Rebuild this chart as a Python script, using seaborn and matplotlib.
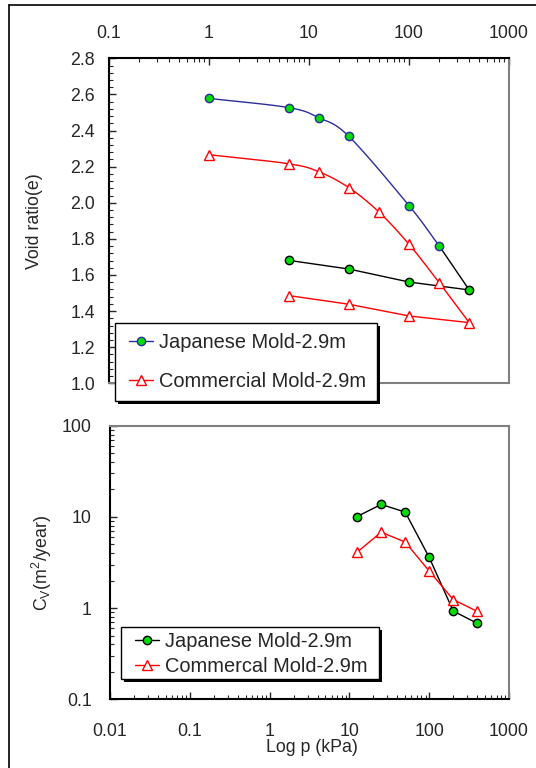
import numpy as np
import pandas as pd
import matplotlib
matplotlib.use('Agg')
import matplotlib.pyplot as plt
import seaborn as sns
from matplotlib.lines import Line2D
from matplotlib.patches import Rectangle
from matplotlib.ticker import LogLocator, MultipleLocator, FixedLocator, FixedFormatter, NullFormatter

# ---------------- data ----------------
# e - log p (top panel)
p_load_J = [1, 6.25, 12.5, 25, 100, 200]
e_load_J = [2.578, 2.527, 2.471, 2.368, 1.984, 1.762]
p_unload_J = [200, 400, 100, 25, 6.25]
e_unload_J = [1.762, 1.517, 1.561, 1.633, 1.681]

p_load_C = [1, 6.25, 12.5, 25, 50, 100, 200, 400]
e_load_C = [2.266, 2.216, 2.172, 2.084, 1.949, 1.770, 1.558, 1.336]
p_unload_C = [400, 100, 25, 6.25]
e_unload_C = [1.336, 1.373, 1.438, 1.486]

# Cv - log p (bottom panel)
p_cv = [12.5, 25, 50, 100, 200, 400]
cv_J = [10.1, 13.7, 11.3, 3.6, 0.93, 0.68]
cv_C = [4.1, 6.8, 5.3, 2.55, 1.24, 0.92]

top_xticks = [0.1, 1, 10, 100, 1000]
top_xlabels = ['0.1', '1', '10', '100', '1000']
bot_xticks = [0.01, 0.1, 1, 10, 100, 1000]
bot_xlabels = ['0.01', '0.1', '1', '10', '100', '1000']
bot_yticks = [0.1, 1, 10, 100]
bot_ylabels = ['0.1', '1', '10', '100']

top_legend = ['Japanese Mold-2.9m', 'Commercial Mold-2.9m']
bot_legend = ['Japanese Mold-2.9m', 'Commercal Mold-2.9m']

# ---------------- style ----------------
sns.set_style('white')
plt.rcParams['font.family'] = ['Liberation Sans', 'DejaVu Sans']
plt.rcParams['mathtext.fontset'] = 'custom'
plt.rcParams['mathtext.rm'] = 'Liberation Sans'
plt.rcParams['mathtext.it'] = 'Liberation Sans'

BLUE = '#2e2e9a'
GREEN = '#00dd00'
RED = '#ff0000'
FS = 12.8
LFS = 14.4
MS_C = 6.0
MS_T = 6.8


def smooth(xs, ys, n=24):
    """Catmull-Rom smoothing in (log10 x, y) space, for drawing the curve."""
    P = np.column_stack([np.log10(xs), np.asarray(ys, float)])
    P = np.vstack([2 * P[0] - P[1], P, 2 * P[-1] - P[-2]])
    out = []
    t = np.linspace(0, 1, n, endpoint=False)[:, None]
    for i in range(1, len(P) - 2):
        p0, p1, p2, p3 = P[i - 1], P[i], P[i + 1], P[i + 2]
        seg = 0.5 * (2 * p1 + (-p0 + p2) * t + (2 * p0 - 5 * p1 + 4 * p2 - p3) * t ** 2
                     + (-p0 + 3 * p1 - 3 * p2 + p3) * t ** 3)
        out.append(seg)
    out.append(P[-2][None, :])
    pts = np.vstack(out)
    return 10 ** pts[:, 0], pts[:, 1]


W, H = 536, 768
fig = plt.figure(figsize=(W / 100, H / 100), dpi=100)


def fx(px):
    return px / W


def fy(py):
    return 1 - py / H


# figure frame lines (left and top)
fig.add_artist(Line2D([fx(9), fx(9)], [0, fy(5)], color='black', lw=1.2, transform=fig.transFigure))
fig.add_artist(Line2D([fx(9), 1], [fy(5), fy(5)], color='black', lw=1.2, transform=fig.transFigure))

ax1 = fig.add_axes([fx(109), fy(383.3), 400 / W, 325 / H])
ax2 = fig.add_axes([fx(110), fy(699.3), 399 / W, 273.6 / H])

# ---------------- top panel ----------------
sx, sy = smooth(p_load_J, e_load_J)
sns.lineplot(x=sx, y=sy, ax=ax1, color=BLUE, lw=1.0, sort=False, estimator=None)
sns.lineplot(x=p_unload_J, y=e_unload_J, ax=ax1, color='black', lw=1.0, sort=False, estimator=None)
sx, sy = smooth(p_load_C, e_load_C)
sns.lineplot(x=sx, y=sy, ax=ax1, color=RED, lw=1.0, sort=False, estimator=None)
sns.lineplot(x=p_unload_C, y=e_unload_C, ax=ax1, color=RED, lw=1.0, sort=False, estimator=None)

ax1.plot(p_load_J, e_load_J, ls='none', marker='o', ms=MS_C, mfc=GREEN, mec=BLUE, mew=1.0, zorder=5)
ax1.plot(p_unload_J[1:], e_unload_J[1:], ls='none', marker='o', ms=MS_C, mfc=GREEN, mec='black', mew=1.0, zorder=5)
ax1.plot(p_load_C + p_unload_C[1:], e_load_C + e_unload_C[1:], ls='none', marker='^', ms=MS_T,
         mfc='white', mec=RED, mew=1.0, zorder=5)

ax1.set_xscale('log')
ax1.set_xlim(0.1, 1000)
ax1.set_ylim(1.0, 2.8)
ax1.xaxis.tick_top()
ax1.xaxis.set_major_locator(FixedLocator(top_xticks))
ax1.xaxis.set_major_formatter(FixedFormatter(top_xlabels))
ax1.xaxis.set_minor_locator(LogLocator(base=10, subs=np.arange(2, 10)))
ax1.xaxis.set_minor_formatter(NullFormatter())
ax1.yaxis.set_major_locator(MultipleLocator(0.2))
ax1.yaxis.set_minor_locator(MultipleLocator(0.04))
ax1.yaxis.set_major_formatter(matplotlib.ticker.FormatStrFormatter('%.1f'))
ax1.tick_params(axis='x', which='major', direction='in', length=5, width=1, pad=12, labelsize=FS, top=True, bottom=False)
ax1.tick_params(axis='x', which='minor', direction='in', length=3, width=0.8, top=True, bottom=False)
ax1.tick_params(axis='y', which='major', direction='in', length=5, width=1, pad=10, labelsize=FS, left=True, right=False)
ax1.tick_params(axis='y', which='minor', direction='in', length=3, width=0.8, left=True, right=False)
ax1.set_xlabel('')
ax1.set_ylabel('Void ratio(e)', fontsize=FS)
ax1.yaxis.set_label_coords(-0.165, 0.5)
for s in ['left', 'top']:
    ax1.spines[s].set_color('black'); ax1.spines[s].set_linewidth(1.5)
for s in ['right', 'bottom']:
    ax1.spines[s].set_color('#808080'); ax1.spines[s].set_linewidth(1.5)

# ---------------- bottom panel ----------------
sns.lineplot(x=p_cv, y=cv_J, ax=ax2, color='black', lw=1.0, marker='o', ms=MS_C, mfc=GREEN, mec='black',
             mew=1.0, sort=False, estimator=None)
sns.lineplot(x=p_cv, y=cv_C, ax=ax2, color=RED, lw=1.0, marker='^', ms=MS_T, mfc='white', mec=RED,
             mew=1.0, sort=False, estimator=None)
ax2.set_xscale('log')
ax2.set_yscale('log')
ax2.set_xlim(0.01, 1000)
ax2.set_ylim(0.1, 100)
ax2.xaxis.set_major_locator(FixedLocator(bot_xticks))
ax2.xaxis.set_major_formatter(FixedFormatter(bot_xlabels))
ax2.xaxis.set_minor_locator(LogLocator(base=10, subs=np.arange(2, 10)))
ax2.xaxis.set_minor_formatter(NullFormatter())
ax2.yaxis.set_major_locator(FixedLocator(bot_yticks))
ax2.yaxis.set_major_formatter(FixedFormatter(bot_ylabels))
ax2.yaxis.set_minor_locator(LogLocator(base=10, subs=np.arange(2, 10)))
ax2.yaxis.set_minor_formatter(NullFormatter())
ax2.tick_params(axis='x', which='major', direction='in', length=5, width=1, pad=17, labelsize=FS, bottom=True, top=False)
ax2.tick_params(axis='x', which='minor', direction='in', length=3, width=0.8, bottom=True, top=False)
ax2.tick_params(axis='y', which='major', direction='in', length=5, width=1, pad=13, labelsize=FS, left=True, right=False)
ax2.tick_params(axis='y', which='minor', direction='in', length=3, width=0.8, left=True, right=False)
ax2.set_xlabel('Log p (kPa)', fontsize=FS)
ax2.xaxis.set_label_coords(0.505, -0.145)
ax2.set_ylabel(r'C$_{\mathrm{V}}$(m$^{2}$/year)', fontsize=FS)
ax2.yaxis.set_label_coords(-0.14, 0.5)
for s in ['left', 'bottom']:
    ax2.spines[s].set_color('black'); ax2.spines[s].set_linewidth(1.5)
for s in ['right', 'top']:
    ax2.spines[s].set_color('#808080'); ax2.spines[s].set_linewidth(1.5)


# ---------------- legends (figure level, with hard shadow) ----------------
def boxed_legend(handles, labels, box, handle_x, row_center, spacing):
    x0, y0, x1, y1 = box
    fig.add_artist(Rectangle((fx(x0 + 3), fy(y1 + 3)), (x1 - x0) / W, (y1 - y0) / H,
                             transform=fig.transFigure, facecolor='black', edgecolor='none', zorder=8))
    fig.add_artist(Rectangle((fx(x0), fy(y1)), (x1 - x0) / W, (y1 - y0) / H,
                             transform=fig.transFigure, facecolor='white', edgecolor='black', lw=1.0, zorder=9))
    leg = fig.legend(handles, labels, loc='center left', bbox_to_anchor=(fx(handle_x), fy(row_center)),
                     bbox_transform=fig.transFigure, borderaxespad=0, borderpad=0, fontsize=LFS,
                     frameon=False, handlelength=1.2, handletextpad=0.3, labelspacing=spacing)
    leg.set_zorder(10)
    return leg


h1 = [Line2D([], [], color=BLUE, lw=1, marker='o', ms=MS_C, mfc=GREEN, mec=BLUE),
      Line2D([], [], color=RED, lw=1, marker='^', ms=MS_T, mfc='white', mec=RED)]
boxed_legend(h1, top_legend, (115, 322.7, 377, 400.7), 129, 362, 1.0)

h2 = [Line2D([], [], color='black', lw=1, marker='o', ms=MS_C, mfc=GREEN, mec='black'),
      Line2D([], [], color=RED, lw=1, marker='^', ms=MS_T, mfc='white', mec=RED)]
boxed_legend(h2, bot_legend, (120.7, 627.3, 379, 679.3), 135, 654, 0.28)

fig.savefig('out.png', dpi=100)
